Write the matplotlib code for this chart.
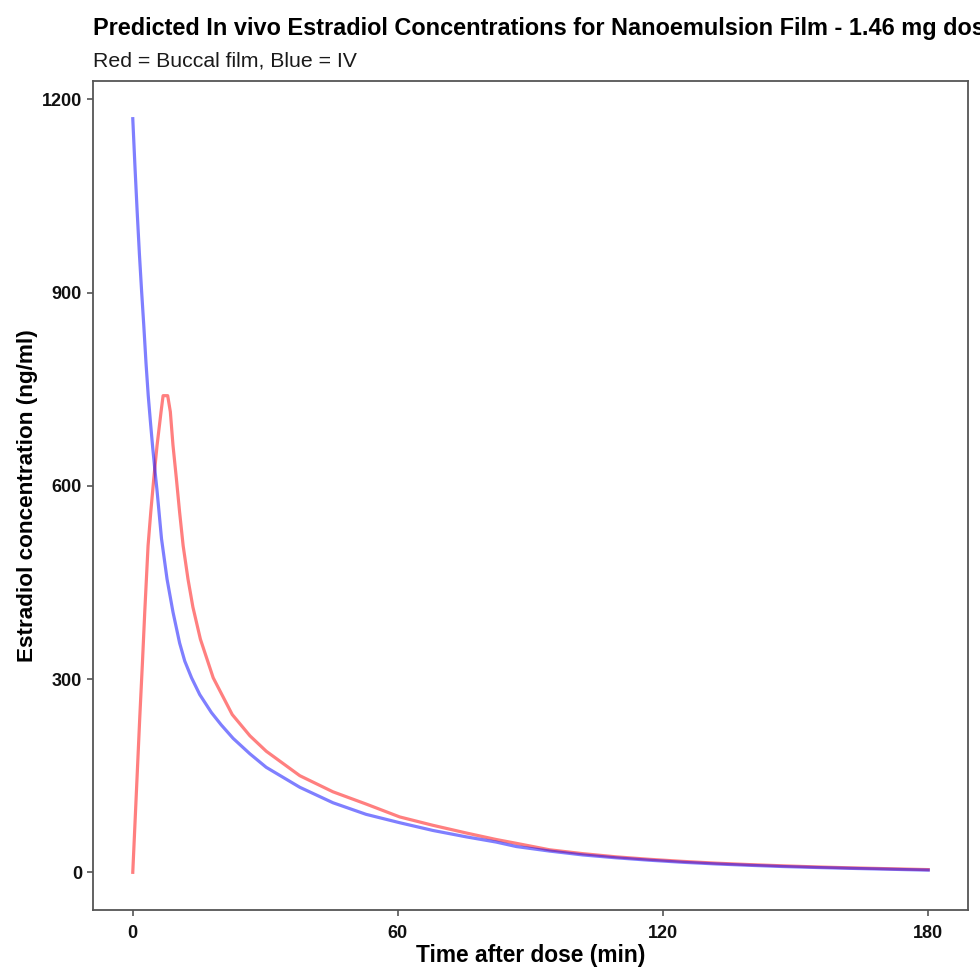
import matplotlib
matplotlib.use("Agg")
import matplotlib.pyplot as plt

plt.rcParams['font.family'] = ['Liberation Sans', 'DejaVu Sans']

# IV (blue) curve
iv_time = [0, 0.5, 1.0, 1.5, 2.0, 2.5, 3.0, 3.5, 4.0, 4.5, 5.0, 5.5, 6.5, 7.76,
           9.1, 10.6, 11.76, 13.3, 15.15, 17.8, 20.0, 22.7, 26.5, 30.2,
           37.8, 45.3, 52.8, 60.4, 67.9, 75.5, 82.2, 86.8, 94.3, 101.8, 109.4, 116.9,
           124.4, 132.0, 139.5, 147.0, 154.6, 162.1, 180.0]
iv_conc = [1170, 1095, 1025, 960, 902, 848, 790, 740, 699, 660, 625, 592, 518, 455,
           404, 356, 328, 302, 276, 248, 229, 208, 184, 163,
           132, 108, 90, 77, 65, 55, 47, 40, 33, 27, 22.5, 18.8,
           15.6, 13.0, 10.9, 9.0, 7.5, 6.2, 3.4]

# Buccal film (red) curve
film_time = [0, 1.58, 2.19, 2.71, 3.46, 4.07, 4.75, 5.5, 6.4, 6.86, 7.9, 8.5, 9.1,
             9.87, 10.6, 11.4, 12.5, 13.6, 15.3, 18.2, 22.5, 26.5, 30.2, 37.8, 45.3, 52.8,
             60.4, 67.9, 75.5, 82.2, 86.8, 94.3, 101.8, 109.4, 116.9, 124.4, 132.0,
             139.5, 147.0, 154.6, 162.1, 180.0]
film_conc = [0, 240, 326, 404, 507, 559, 611, 663, 715, 740, 740, 715, 663,
             611, 559, 507, 455, 412, 362, 302, 245, 212, 188, 150, 125, 106,
             86, 73, 61, 51, 45, 35, 29, 24, 20.2, 17.0, 14.2,
             12.0, 10.1, 8.4, 7.0, 4.2]

x_ticks = [0, 60, 120, 180]
y_ticks = [0, 300, 600, 900, 1200]

title = "Predicted In vivo Estradiol Concentrations for Nanoemulsion Film - 1.46 mg dose"
subtitle = "Red = Buccal film, Blue = IV"
xlabel = "Time after dose (min)"
ylabel = "Estradiol concentration (ng/ml)"

fig = plt.figure(figsize=(9.8, 9.69), dpi=100)
ax = fig.add_axes([93/980, 1 - 910/969, (968-93)/980, (910-81)/969])

ax.plot(film_time, film_conc, color='red', alpha=0.5, lw=2.3, solid_joinstyle='round')
ax.plot(iv_time, iv_conc, color='blue', alpha=0.5, lw=2.3, solid_joinstyle='round')

ymax = max(max(iv_conc), max(film_conc))
ymin = min(min(iv_conc), min(film_conc))
yr = ymax - ymin
ax.set_ylim(ymin - 0.05*yr, ymax + 0.05*yr)
xr = max(iv_time) - min(iv_time)
ax.set_xlim(min(iv_time) - 0.05*xr, max(iv_time) + 0.05*xr)

ax.set_xticks(x_ticks)
ax.set_yticks(y_ticks)
ax.set_xticklabels([str(v) for v in x_ticks], fontsize=13, fontweight='bold', color='#111111')
ax.set_yticklabels([str(v) for v in y_ticks], fontsize=13, fontweight='bold', color='#111111')
ax.tick_params(axis='both', length=4, width=1.2, color='#555555')
ax.tick_params(axis='x', pad=6.5)
ax.tick_params(axis='y', pad=4)
for s in ax.spines.values():
    s.set_color('#555555')
    s.set_linewidth(1.3)

fig.text(93/980, 1 - 35/969, title, fontsize=16.9, fontweight='bold', ha='left', va='baseline', color='black')
fig.text(93/980, 1 - 66.7/969, subtitle, fontsize=15.3, ha='left', va='baseline', color='#1a1a1a')
fig.text(530.5/980, 1 - 962/969, xlabel, fontsize=16.4, fontweight='bold', ha='center', va='baseline', color='black')
fig.text(27.5/980, 1 - 496/969, ylabel, fontsize=16.2, fontweight='bold', ha='center', va='center', rotation=90, color='black')

fig.savefig("out.png", dpi=100)
